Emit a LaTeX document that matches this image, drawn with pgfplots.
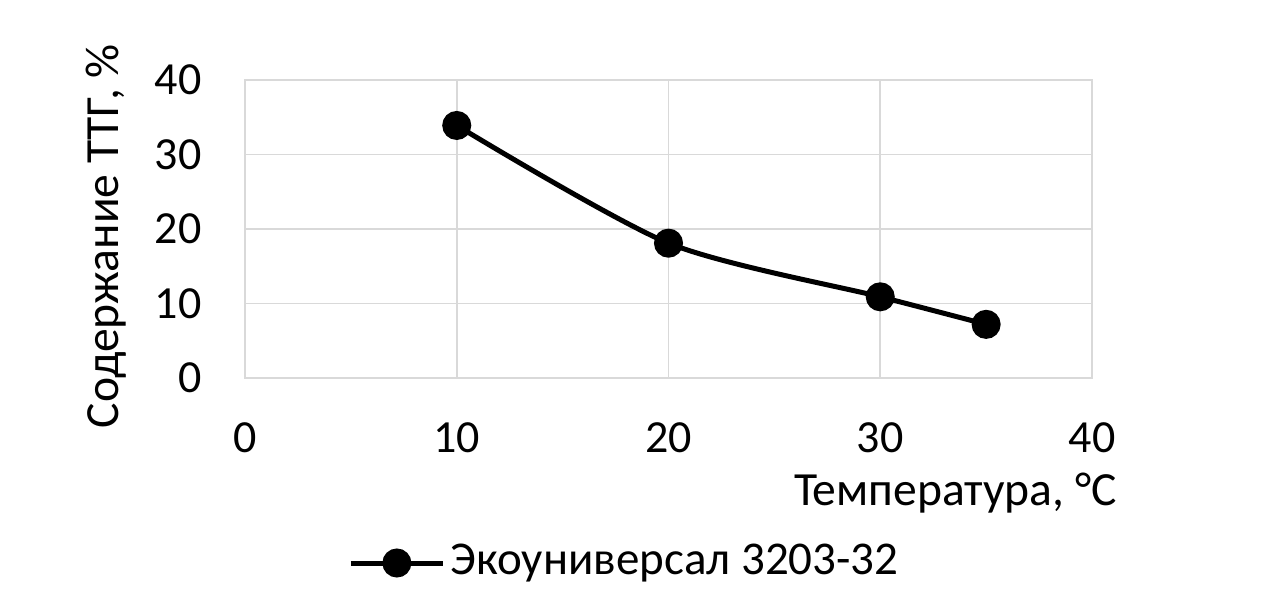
\documentclass[border=0pt]{standalone}
\usepackage{pgfplots}
\pgfplotsset{compat=1.18}
\usepackage{fontspec}
\setmainfont{Carlito}
\definecolor{gridgray}{HTML}{D9D9D9}

\begin{document}
\begin{tikzpicture}
\fontsize{23.5}{28}\selectfont
% page frame, 1px = 0.5pt
\path (0pt,0pt) rectangle (632pt,303.5pt);
\begin{axis}[
    at={(122.5pt,114.5pt)}, anchor=south west,
    scale only axis,
    width=423.5pt, height=149pt,
    xmin=0, xmax=40, ymin=0, ymax=40,
    xtick={0,10,...,40}, ytick={0,10,...,40},
    grid=major,
    grid style={gridgray, line width=0.9pt},
    axis line style={gridgray, line width=0.9pt},
    major tick length=0pt,
    /pgf/number format/assume math mode=true,
    tick label style={font=\fontsize{23}{28}\selectfont, inner sep=0pt},
    yticklabel style={anchor=east, xshift=-21.5pt},
    xticklabel style={anchor=north, yshift=-22pt},
    label style={font=\fontsize{23.8}{28}\selectfont, inner sep=0pt},
    xlabel={Температура, °C},
    xlabel style={at={(rel axis cs:1.0295,-0.4262)}, anchor=base east},
    ylabel={Содержание ТТГ, \%},
    ylabel style={at={(rel axis cs:-0.1499,0.4765)}, anchor=base},
    legend style={
      at={(rel axis cs:0.1216,-0.6208)}, anchor=west,
      draw=none, fill=none, inner sep=0pt,
      font=\fontsize{23.5}{28}\selectfont,
      nodes={inner sep=2.5pt}
    },
    legend image code/.code={
      \draw[mark repeat=2, mark phase=2, #1]
        plot coordinates {(0pt,0pt) (23pt,0pt) (46pt,0pt)};
    },
    clip=false
  ]

\addplot[black, line width=2.5pt, smooth, tension=0.45,
         mark=*, mark size=6pt, mark options={solid}]
  coordinates {
    (10, 33.9)
    (20, 18.1)
    (30, 10.9)
    (35, 7.2)
  };

\legend{Экоуниверсал 3203-32}

\end{axis}
\end{tikzpicture}
\end{document}
